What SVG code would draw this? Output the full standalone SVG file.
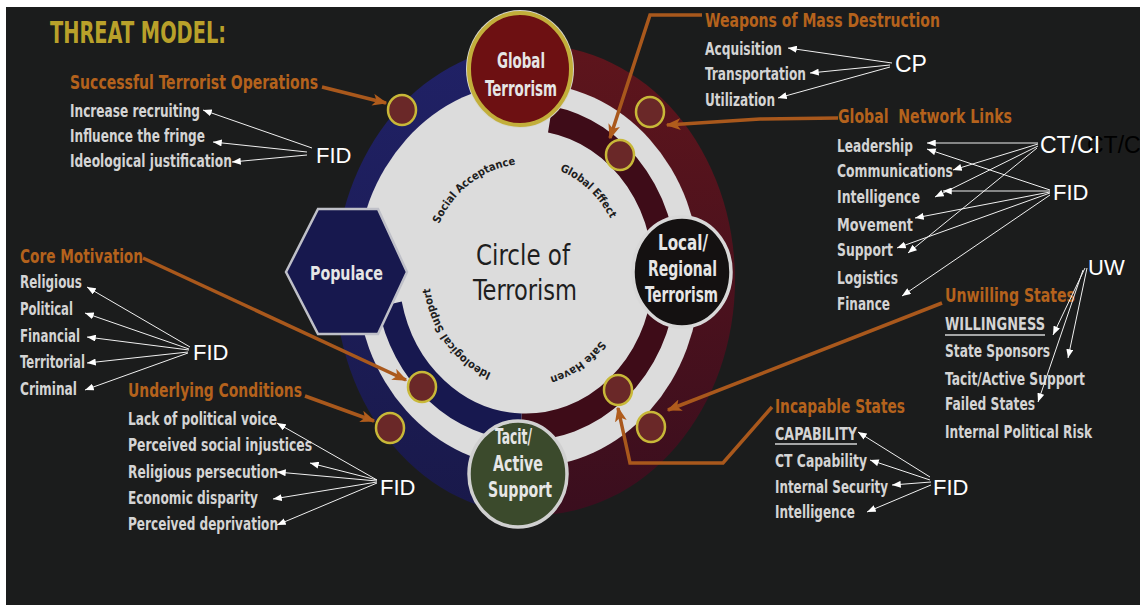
<svg xmlns="http://www.w3.org/2000/svg" width="1140" height="607" viewBox="0 0 1140 607">
<defs>
<style>
.hd{font-family:"DejaVu Sans Condensed","Liberation Sans",sans-serif;font-weight:bold;font-size:19px;fill:#b4621c}
.it{font-family:"DejaVu Sans Condensed","Liberation Sans",sans-serif;font-weight:bold;font-size:18px;fill:#d4d4d4}
.ab{font-family:"Liberation Sans",Arial,sans-serif;font-size:22px;fill:#ffffff}
.nt{font-family:"DejaVu Sans Condensed","Liberation Sans",sans-serif;font-weight:bold;font-size:21px;fill:#e6e6e6}
.arc{font-family:"DejaVu Sans Condensed","Liberation Sans",sans-serif;font-weight:bold;font-size:11px;fill:#1e1e1e}
.wl{stroke:#f0f0f0;stroke-width:1;fill:none;marker-end:url(#wa)}
.ol{stroke:#a9581c;stroke-width:3.5;fill:none;marker-end:url(#oa)}
.sc{fill:#6a2828;stroke:#c8b838;stroke-width:2.5}
.ul{stroke:#d4d4d4;stroke-width:1.5}
</style>
<marker id="wa" viewBox="0 0 10 8" refX="10" refY="4" markerWidth="9" markerHeight="7" markerUnits="userSpaceOnUse" orient="auto"><path d="M0,0 L10,4 L0,8 z" fill="#ffffff"/></marker>
<marker id="oa" viewBox="0 0 10 8" refX="9" refY="4" markerWidth="15" markerHeight="12" markerUnits="userSpaceOnUse" orient="auto"><path d="M0,0 L10,4 L0,8 L2.5,4 z" fill="#b05c1c"/></marker>
<linearGradient id="gm" x1="0" y1="0" x2="0" y2="1"><stop offset="0" stop-color="#5e151c"/><stop offset="1" stop-color="#3a0e1e"/></linearGradient>
<linearGradient id="gb" x1="0" y1="0" x2="0" y2="1"><stop offset="0" stop-color="#202166"/><stop offset="1" stop-color="#19194a"/></linearGradient>
<clipPath id="cl"><rect x="0" y="0" width="521" height="607"/></clipPath>
<clipPath id="cr"><rect x="521" y="0" width="619" height="607"/></clipPath>
<path id="ap" d="M 429 272 A 97 108 0 1 1 623 272 A 97 108 0 1 1 429 272"/>
</defs>

<rect x="0" y="0" width="1140" height="607" fill="#ffffff"/>
<rect x="6" y="7" width="1134" height="598" fill="#1b1c1c"/>

<text x="50" y="43" textLength="176" lengthAdjust="spacingAndGlyphs" style="font-family:'DejaVu Sans Condensed','Liberation Sans',sans-serif;font-weight:bold;font-size:30px;fill:#b9a12a">THREAT MODEL:</text>

<g id="ring">
<ellipse cx="535" cy="280" rx="200" ry="235" fill="url(#gb)" clip-path="url(#cl)"/>
<ellipse cx="535" cy="280" rx="200" ry="235" fill="url(#gm)" clip-path="url(#cr)"/>
<ellipse cx="528" cy="275" rx="172" ry="192" fill="#dcdcdc"/>
<g transform="translate(526 272) scale(1 1.115)">
<path d="M24.1,-136.9 A139,139 0 0 1 -4.85,138.9" stroke="#3e0c18" stroke-width="24" fill="none"/>
<path d="M-4.85,138.9 A139,139 0 0 1 -136,28.9" stroke="#17184f" stroke-width="24" fill="none"/>
</g>
<text x="476" y="265" textLength="94" lengthAdjust="spacingAndGlyphs" style="font-family:'DejaVu Sans Condensed','Liberation Sans',sans-serif;font-size:28px;fill:#1e1e1e">Circle of</text>
<text x="473" y="300" textLength="104" lengthAdjust="spacingAndGlyphs" style="font-family:'DejaVu Sans Condensed','Liberation Sans',sans-serif;font-size:28px;fill:#1e1e1e">Terrorism</text>
<text class="arc" text-anchor="middle"><textPath href="#ap" startOffset="100">Social Acceptance</textPath></text>
<text class="arc" text-anchor="middle"><textPath href="#ap" startOffset="231">Global Effect</textPath></text>
<text class="arc" text-anchor="middle"><textPath href="#ap" startOffset="427">Safe Haven</textPath></text>
<text class="arc" text-anchor="middle"><textPath href="#ap" startOffset="573">Ideological Support</textPath></text>
</g>

<g id="points">
<ellipse class="sc" cx="402" cy="110" rx="14" ry="15"/>
<ellipse class="sc" cx="650" cy="112" rx="14" ry="15"/>
<ellipse class="sc" cx="620" cy="155" rx="14" ry="15"/>
<ellipse class="sc" cx="422" cy="387" rx="14" ry="15"/>
<ellipse class="sc" cx="390" cy="428" rx="14" ry="15"/>
<ellipse class="sc" cx="618" cy="390" rx="14" ry="15"/>
<ellipse class="sc" cx="651" cy="427" rx="14" ry="15"/>
</g>

<g id="global-terrorism">
<ellipse cx="520" cy="69" rx="54" ry="59" fill="#d6d6cc"/>
<ellipse cx="520" cy="69" rx="51" ry="56" fill="#6d1012" stroke="#c2ae3a" stroke-width="4"/>
<text class="nt" x="497" y="68" textLength="48" lengthAdjust="spacingAndGlyphs">Global</text>
<text class="nt" x="485" y="96" textLength="72" lengthAdjust="spacingAndGlyphs">Terrorism</text>
</g>

<g id="local-regional">
<ellipse cx="682" cy="272" rx="49" ry="55" fill="#141111" stroke="#d8d8d8" stroke-width="3.5"/>
<text class="nt" x="658" y="250" textLength="50" lengthAdjust="spacingAndGlyphs">Local/</text>
<text class="nt" x="648" y="276" textLength="69" lengthAdjust="spacingAndGlyphs">Regional</text>
<text class="nt" x="645" y="302" textLength="73" lengthAdjust="spacingAndGlyphs">Terrorism</text>
</g>

<g id="tacit-active">
<ellipse cx="518" cy="474" rx="49" ry="53" fill="#3b4a2c" stroke="#d0d0d0" stroke-width="3.5"/>
<text class="nt" x="495" y="444" textLength="37" lengthAdjust="spacingAndGlyphs">Tacit/</text>
<text class="nt" x="493" y="471" textLength="50" lengthAdjust="spacingAndGlyphs">Active</text>
<text class="nt" x="488" y="497" textLength="64" lengthAdjust="spacingAndGlyphs">Support</text>
</g>

<g id="populace">
<polygon points="286,272 318,209 378,209 407,272 378,334 318,334" fill="#17184e" stroke="#bfc0c8" stroke-width="2.5"/>
<text class="nt" x="310" y="280" textLength="73" lengthAdjust="spacingAndGlyphs" style="font-size:20px">Populace</text>
</g>

<g id="successful-ops">
<text class="hd" x="70" y="89" textLength="248" lengthAdjust="spacingAndGlyphs">Successful Terrorist Operations</text>
<text class="it" x="70" y="117" textLength="130" lengthAdjust="spacingAndGlyphs">Increase recruiting</text>
<text class="it" x="70" y="142" textLength="135" lengthAdjust="spacingAndGlyphs">Influence the fringe</text>
<text class="it" x="70" y="167" textLength="162" lengthAdjust="spacingAndGlyphs">Ideological justification</text>
<text class="ab" x="316" y="163">FID</text>
</g>

<g id="wmd">
<text class="hd" x="705" y="27" textLength="235" lengthAdjust="spacingAndGlyphs">Weapons of Mass Destruction</text>
<text class="it" x="705" y="55" textLength="77" lengthAdjust="spacingAndGlyphs">Acquisition</text>
<text class="it" x="705" y="80" textLength="101" lengthAdjust="spacingAndGlyphs">Transportation</text>
<text class="it" x="705" y="106" textLength="70" lengthAdjust="spacingAndGlyphs">Utilization</text>
<text class="ab" x="895" y="72" style="font-size:23px">CP</text>
</g>

<g id="global-network-links">
<text class="hd" x="838" y="123" textLength="174" lengthAdjust="spacingAndGlyphs" style="white-space:pre">Global  Network Links</text>
<text class="it" x="837" y="152" textLength="76" lengthAdjust="spacingAndGlyphs">Leadership</text>
<text class="it" x="837" y="177" textLength="116" lengthAdjust="spacingAndGlyphs">Communications</text>
<text class="it" x="837" y="203" textLength="83" lengthAdjust="spacingAndGlyphs">Intelligence</text>
<text class="it" x="837" y="231" textLength="76" lengthAdjust="spacingAndGlyphs">Movement</text>
<text class="it" x="837" y="256" textLength="56" lengthAdjust="spacingAndGlyphs">Support</text>
<text class="it" x="837" y="284" textLength="61" lengthAdjust="spacingAndGlyphs">Logistics</text>
<text class="it" x="837" y="310" textLength="53" lengthAdjust="spacingAndGlyphs">Finance</text>
<text class="ab" x="1087" y="153" style="font-size:23px;fill:#000000">CT/CI</text>
<text class="ab" x="1040" y="153" style="font-size:23px">CT/CI</text>
<text class="ab" x="1053" y="200">FID</text>
</g>

<g id="core-motivation">
<text class="hd" x="20" y="263" textLength="123" lengthAdjust="spacingAndGlyphs">Core Motivation</text>
<text class="it" x="20" y="288" textLength="62" lengthAdjust="spacingAndGlyphs">Religious</text>
<text class="it" x="20" y="315" textLength="53" lengthAdjust="spacingAndGlyphs">Political</text>
<text class="it" x="20" y="342" textLength="60" lengthAdjust="spacingAndGlyphs">Financial</text>
<text class="it" x="20" y="368" textLength="65" lengthAdjust="spacingAndGlyphs">Territorial</text>
<text class="it" x="20" y="395" textLength="57" lengthAdjust="spacingAndGlyphs">Criminal</text>
<text class="ab" x="193" y="360">FID</text>
</g>

<g id="underlying-conditions">
<text class="hd" x="128" y="397" textLength="174" lengthAdjust="spacingAndGlyphs">Underlying Conditions</text>
<text class="it" x="128" y="425" textLength="149" lengthAdjust="spacingAndGlyphs">Lack of political voice</text>
<text class="it" x="128" y="451" textLength="184" lengthAdjust="spacingAndGlyphs">Perceived social injustices</text>
<text class="it" x="128" y="478" textLength="150" lengthAdjust="spacingAndGlyphs">Religious persecution</text>
<text class="it" x="128" y="504" textLength="130" lengthAdjust="spacingAndGlyphs">Economic disparity</text>
<text class="it" x="128" y="530" textLength="150" lengthAdjust="spacingAndGlyphs">Perceived deprivation</text>
<text class="ab" x="380" y="495">FID</text>
</g>

<g id="unwilling-states">
<text class="hd" x="945" y="302" textLength="130" lengthAdjust="spacingAndGlyphs">Unwilling States</text>
<text class="it" x="945" y="330" textLength="100" lengthAdjust="spacingAndGlyphs">WILLINGNESS</text>
<line class="ul" x1="945" y1="335" x2="1045" y2="335"/>
<text class="it" x="945" y="357" textLength="105" lengthAdjust="spacingAndGlyphs">State Sponsors</text>
<text class="it" x="945" y="385" textLength="140" lengthAdjust="spacingAndGlyphs">Tacit/Active Support</text>
<text class="it" x="945" y="410" textLength="90" lengthAdjust="spacingAndGlyphs">Failed States</text>
<text class="it" x="945" y="438" textLength="147" lengthAdjust="spacingAndGlyphs">Internal Political Risk</text>
<text class="ab" x="1088" y="275">UW</text>
</g>

<g id="incapable-states">
<text class="hd" x="775" y="413" textLength="130" lengthAdjust="spacingAndGlyphs">Incapable States</text>
<text class="it" x="775" y="440" textLength="82" lengthAdjust="spacingAndGlyphs">CAPABILITY</text>
<line class="ul" x1="775" y1="444" x2="857" y2="444"/>
<text class="it" x="775" y="467" textLength="92" lengthAdjust="spacingAndGlyphs">CT Capability</text>
<text class="it" x="775" y="493" textLength="113" lengthAdjust="spacingAndGlyphs">Internal Security</text>
<text class="it" x="775" y="518" textLength="80" lengthAdjust="spacingAndGlyphs">Intelligence</text>
<text class="ab" x="933" y="495">FID</text>
</g>

<g id="connectors">
<polyline class="ol" points="322,87 386,103"/>
<polyline class="ol" points="702,15 650,15 610,138"/>
<polyline class="ol" points="838,118 760,119 667,125"/>
<polyline class="ol" points="143,258 406,380"/>
<polyline class="ol" points="305,396 374,421"/>
<polyline class="ol" points="942,303 668,410"/>
<polyline class="ol" points="772,407 723,463 630,463 618,408"/>

<line class="wl" x1="312" y1="148" x2="203" y2="110"/>
<line class="wl" x1="307" y1="152" x2="213" y2="142"/>
<line class="wl" x1="307" y1="155" x2="232" y2="162"/>

<line class="wl" x1="892" y1="63" x2="788" y2="48"/>
<line class="wl" x1="890" y1="65" x2="810" y2="73"/>
<line class="wl" x1="890" y1="67" x2="778" y2="98"/>

<line class="wl" x1="1038" y1="143" x2="927" y2="143"/>
<line class="wl" x1="1038" y1="144" x2="953" y2="170"/>
<line class="wl" x1="1038" y1="146" x2="935" y2="197"/>
<line class="wl" x1="1037" y1="148" x2="908" y2="253"/>
<line class="wl" x1="1050" y1="190" x2="927" y2="149"/>
<line class="wl" x1="1050" y1="191" x2="943" y2="191"/>
<line class="wl" x1="1050" y1="192" x2="915" y2="218"/>
<line class="wl" x1="1050" y1="193" x2="897" y2="248"/>
<line class="wl" x1="1050" y1="195" x2="902" y2="296"/>

<line class="wl" x1="190" y1="347" x2="87" y2="287"/>
<line class="wl" x1="189" y1="349" x2="85" y2="313"/>
<line class="wl" x1="189" y1="350" x2="87" y2="337"/>
<line class="wl" x1="188" y1="352" x2="87" y2="363"/>
<line class="wl" x1="188" y1="353" x2="85" y2="390"/>

<line class="wl" x1="377" y1="480" x2="277" y2="423"/>
<line class="wl" x1="377" y1="480" x2="310" y2="463"/>
<line class="wl" x1="377" y1="481" x2="277" y2="472"/>
<line class="wl" x1="377" y1="482" x2="273" y2="499"/>
<line class="wl" x1="377" y1="483" x2="277" y2="525"/>

<line class="wl" x1="1085" y1="268" x2="1053" y2="335"/>
<line class="wl" x1="1087" y1="268" x2="1068" y2="358"/>
<line class="wl" x1="1083" y1="270" x2="1038" y2="402"/>

<line class="wl" x1="930" y1="477" x2="858" y2="432"/>
<line class="wl" x1="930" y1="480" x2="870" y2="460"/>
<line class="wl" x1="931" y1="482" x2="892" y2="485"/>
<line class="wl" x1="931" y1="485" x2="867" y2="512"/>
</g>
</svg>
